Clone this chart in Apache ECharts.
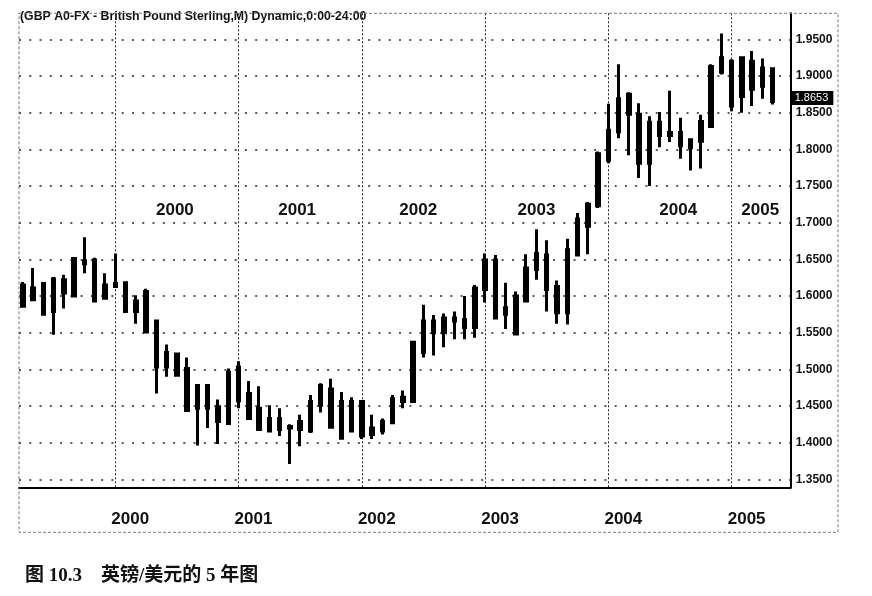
<!DOCTYPE html>
<html><head><meta charset="utf-8">
<script src="https://cdn.jsdelivr.net/npm/echarts@6/dist/echarts.min.js"></script>
<style>html,body{margin:0;padding:0;background:#fff}#c{width:872px;height:596px}</style>
</head><body><div id="c"></div>
<script>
// Monthly GBP/USD candles, Apr 1999 – May 2005
const months = [
 '1999-04','1999-05','1999-06','1999-07','1999-08','1999-09','1999-10','1999-11','1999-12',
 '2000-01','2000-02','2000-03','2000-04','2000-05','2000-06','2000-07','2000-08','2000-09','2000-10','2000-11','2000-12',
 '2001-01','2001-02','2001-03','2001-04','2001-05','2001-06','2001-07','2001-08','2001-09','2001-10','2001-11','2001-12',
 '2002-01','2002-02','2002-03','2002-04','2002-05','2002-06','2002-07','2002-08','2002-09','2002-10','2002-11','2002-12',
 '2003-01','2003-02','2003-03','2003-04','2003-05','2003-06','2003-07','2003-08','2003-09','2003-10','2003-11','2003-12',
 '2004-01','2004-02','2004-03','2004-04','2004-05','2004-06','2004-07','2004-08','2004-09','2004-10','2004-11','2004-12',
 '2005-01','2005-02','2005-03','2005-04','2005-05'
];
const opens = [
 1.615,1.595,1.617,1.579,1.622,1.600,1.648,1.649,1.597,
 1.617,1.618,1.579,1.606,1.566,1.503,1.521,1.501,1.447,1.478,1.449,1.426,
 1.503,1.467,1.447,1.416,1.433,1.420,1.418,1.416,1.451,1.473,1.456,1.416,
 1.456,1.411,1.416,1.427,1.456,1.456,1.523,1.566,1.550,1.570,1.568,1.557,
 1.609,1.649,1.575,1.548,1.593,1.636,1.656,1.613,1.577,1.656,1.695,1.723,
 1.785,1.824,1.875,1.848,1.781,1.837,1.819,1.823,1.802,1.811,1.831,1.905,
 1.920,1.872,1.920,1.886,1.910
];
const closes = [
 1.586,1.611,1.575,1.623,1.604,1.651,1.644,1.593,1.615,
 1.613,1.579,1.593,1.551,1.503,1.523,1.492,1.444,1.478,1.447,1.429,1.496,
 1.457,1.433,1.418,1.433,1.418,1.422,1.429,1.456,1.478,1.421,1.406,1.456,
 1.409,1.420,1.429,1.460,1.462,1.537,1.566,1.550,1.570,1.566,1.557,1.611,
 1.649,1.570,1.584,1.600,1.638,1.658,1.609,1.577,1.663,1.705,1.725,1.794,
 1.826,1.869,1.848,1.781,1.837,1.819,1.823,1.805,1.813,1.838,1.913,1.925,
 1.859,1.925,1.882,1.911,1.8653
];
const lows = [
 1.585,1.593,1.573,1.547,1.583,1.598,1.631,1.592,1.595,
 1.612,1.577,1.562,1.550,1.467,1.490,1.491,1.442,1.396,1.420,1.398,1.425,
 1.447,1.431,1.417,1.414,1.409,1.371,1.395,1.413,1.441,1.420,1.405,1.414,
 1.405,1.405,1.411,1.426,1.447,1.454,1.516,1.519,1.530,1.541,1.541,1.543,
 1.591,1.570,1.555,1.547,1.591,1.622,1.579,1.562,1.561,1.654,1.657,1.720,
 1.781,1.815,1.792,1.761,1.750,1.803,1.810,1.787,1.771,1.774,1.829,1.902,
 1.852,1.850,1.859,1.869,1.861
];
const highs = [
 1.619,1.638,1.619,1.626,1.629,1.653,1.680,1.652,1.631,
 1.658,1.619,1.601,1.610,1.568,1.534,1.522,1.516,1.480,1.480,1.459,1.501,
 1.511,1.484,1.477,1.451,1.447,1.425,1.438,1.465,1.481,1.487,1.469,1.462,
 1.458,1.438,1.433,1.465,1.471,1.538,1.588,1.574,1.576,1.579,1.600,1.615,
 1.658,1.656,1.618,1.606,1.657,1.691,1.676,1.621,1.678,1.713,1.728,1.797,
 1.862,1.916,1.878,1.863,1.845,1.851,1.880,1.843,1.815,1.847,1.916,1.958,
 1.923,1.927,1.934,1.924,1.911
];
const yearTicks = ['2000-01','2001-01','2002-01','2003-01','2004-01','2005-01'];
const yearLabels = ['2000','2001','2002','2003','2004','2005'];
const priceTicks = [1.35,1.40,1.45,1.50,1.55,1.60,1.65,1.70,1.75,1.80,1.85,1.90,1.95];
const lastPrice = 1.8653;
const annoMonths = ['2000-07','2001-07','2002-06','2003-06','2004-08','2005-03'];
const annoLabels = ['2000','2001','2002','2003','2004','2005'];

const chart = echarts.init(document.getElementById('c'), null, {renderer: 'canvas'});
const candleData = months.map((m, i) => [i, opens[i], closes[i], lows[i], highs[i]]);
const tickIdx = yearTicks.map(m => months.indexOf(m));
const annoOffsets = [-2, -3, 5, 0, -2, 8];
const FONT = "'Liberation Sans', Arial, sans-serif";

chart.setOption({
  animation: false,
  backgroundColor: '#fff',
  title: [
    { text: '(GBP A0-FX - British Pound Sterling,M) Dynamic,0:00-24:00', left: 20, top: 11, padding: 0,
      textStyle: { fontSize: 12.3, fontWeight: 'bold', color: '#111', fontFamily: FONT } },
    { text: '图 10.3　英镑/美元的 5 年图', left: 25, top: 567, padding: 0,
      textStyle: { fontSize: 19, fontWeight: 'bold', color: '#111', fontFamily: "'Liberation Serif','Noto Sans CJK SC',serif" } }
  ],
  grid: { left: 19, top: 13.3, right: 81.3, bottom: 108.7, containLabel: false },
  xAxis: {
    type: 'value', min: -0.37, max: 74.75,
    axisLine: { show: true, onZero: false, lineStyle: { color: '#000', width: 2 } },
    axisTick: { show: false, customValues: tickIdx },
    splitLine: { show: true, lineStyle: { color: '#222', type: [2, 2], width: 1 } },
    axisLabel: {
      customValues: tickIdx,
      formatter: v => yearLabels[tickIdx.indexOf(Math.round(v))] || '',
      fontSize: 17, fontWeight: 'bold', color: '#111', fontFamily: FONT,
      margin: 24, padding: [0, 0, 0, 30]
    }
  },
  yAxis: {
    type: 'value', position: 'right', min: 1.3391, max: 1.9855,
    axisLine: { show: true, onZero: false, lineStyle: { color: '#000', width: 2 } },
    axisTick: { show: false, customValues: priceTicks },
    splitLine: { show: true, lineStyle: { color: '#222', type: [2, 8.27], width: 1.5 } },
    axisLabel: {
      customValues: priceTicks,
      formatter: v => v.toFixed(4),
      fontSize: 12, fontWeight: 'bold', color: '#111', fontFamily: FONT, margin: 5
    }
  },
  graphic: [
    { type: 'rect', z: 100, silent: true,
      shape: { x: 19, y: 13.3, width: 819, height: 519 },
      style: { fill: 'none', stroke: '#777', lineWidth: 1, lineDash: [3, 2] } }
  ],
  series: [{
    type: 'candlestick',
    encode: { x: 0, y: [1, 2, 3, 4] },
    data: candleData,
    barWidth: 3,
    itemStyle: { color: '#000', color0: '#000', borderColor: '#000', borderColor0: '#000', borderWidth: 3 },
    markLine: {
      silent: true, symbol: ['none', 'none'],
      lineStyle: { color: 'rgba(0,0,0,0)', width: 0 },
      data: [{ yAxis: lastPrice }],
      label: { show: true, position: 'end', distance: 0, formatter: lastPrice.toFixed(4),
        backgroundColor: '#000', color: '#fff', fontSize: 11, fontFamily: FONT, padding: [2, 5, 1, 4] }
    },
    markPoint: {
      silent: true, symbol: 'circle', symbolSize: 1,
      itemStyle: { color: 'rgba(0,0,0,0)' },
      label: { show: true, position: 'inside', formatter: p => p.name, color: '#111',
        fontSize: 17, fontWeight: 'bold', fontFamily: FONT },
      data: annoMonths.map((m, k) => ({ name: annoLabels[k], coord: [months.indexOf(m), 1.717],
        label: { offset: [annoOffsets[k], 0] } }))
    }
  }]
});
</script></body></html>
